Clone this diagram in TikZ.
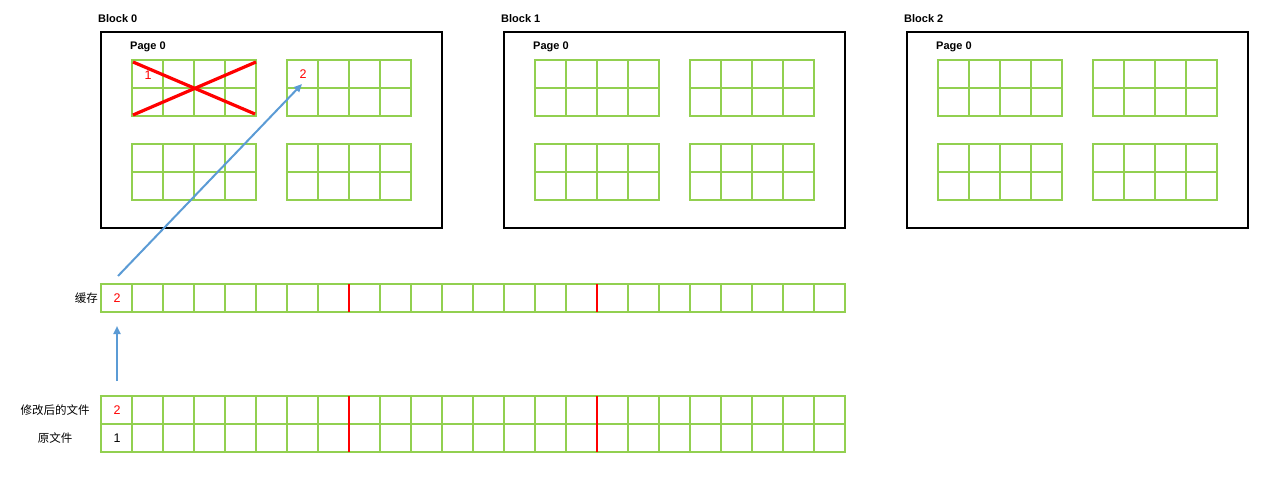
\documentclass[tikz,border=0pt]{standalone}
\usepackage{fontspec}
\setmainfont{Liberation Sans}
\newfontfamily\cjk{Noto Sans CJK SC}
\usetikzlibrary{arrows.meta}
\definecolor{cellgreen}{HTML}{92D050}
\definecolor{arrblue}{HTML}{5B9BD5}
\definecolor{xred}{HTML}{FF0000}
\tikzset{
  gline/.style={draw=cellgreen,line width=2.4pt},
  blockbox/.style={draw=black,line width=2.4pt},
  redline/.style={draw=xred,line width=2.4pt},
  crossline/.style={draw=xred,line width=3.2pt},
  flow/.style={draw=arrblue,line width=2pt,-{Triangle[length=8pt,width=7pt]}},
  title/.style={font=\bfseries\fontsize{11}{13}\selectfont,anchor=west,inner sep=0pt},
  num/.style={font=\fontsize{12.5}{14}\selectfont,inner sep=0pt},
  cnlabel/.style={font=\cjk\fontsize{11.5}{14}\selectfont,inner sep=0pt}
}
\begin{document}
\begin{tikzpicture}[x=1pt,y=-1pt]
\useasboundingbox (0,0) rectangle (1273,481);
% blocks
\foreach \b/\bx in {0/101,1/504,2/907}{
  \draw[blockbox] (\bx,32) rectangle (\bx+341,228);
  \node[title] (blk\b) at (\bx-3,19) {Block \b};
  \node[title] (pg\b) at (\bx+29,47) {Page 0};
  \foreach \ox/\oy in {31/60,186/60,31/144,186/144}{
    \foreach \i in {0,...,4} \draw[gline] (\bx+\ox+\i*31,\oy) -- (\bx+\ox+\i*31,\oy+56);
    \foreach \j in {0,1,2} \draw[gline] (\bx+\ox-1.2,\oy+\j*28) -- (\bx+\ox+125.2,\oy+\j*28);
  }
}
% red cross on first grid
\draw[crossline] (133,62) -- (255,114);
\draw[crossline] (133,115) -- (256,62);
\node[num,text=xred] (n1) at (148,75) {1};
\node[num,text=xred] (n2) at (303,74) {2};
\coordinate (dst) at (302,84);
% cache row
\foreach \i in {0,...,24} \draw[gline] (101+\i*31,284) -- (101+\i*31,312);
\foreach \j in {0,1} \draw[gline] (99.8,284+\j*28) -- (846.2,284+\j*28);
\draw[redline] (349,284) -- (349,312);
\draw[redline] (597,284) -- (597,312);
\node[num,text=xred] (c2) at (117,298) {2};
\node[cnlabel,anchor=east] (lcache) at (98,298) {缓存};
% file rows
\foreach \i in {0,...,24} \draw[gline] (101+\i*31,396) -- (101+\i*31,452);
\foreach \j in {0,1,2} \draw[gline] (99.8,396+\j*28) -- (846.2,396+\j*28);
\draw[redline] (349,396) -- (349,452);
\draw[redline] (597,396) -- (597,452);
\node[num,text=xred] (f2) at (117,410) {2};
\node[num] (f1) at (117,438) {1};
\node[cnlabel] (lmod) at (55,410) {修改后的文件};
\node[cnlabel] (lorig) at (55,438) {原文件};
% arrows
\coordinate (src1) at (118,276);
\coordinate (src2) at (117,381);
\coordinate (dst2) at (117,326);
\draw[flow] (src1) -- (dst);
\draw[flow] (src2) -- (dst2);
\end{tikzpicture}
\end{document}
